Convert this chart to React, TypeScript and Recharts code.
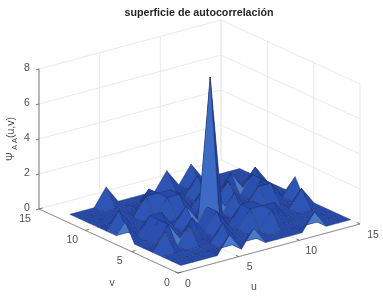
import React from "react";
import { ScatterChart, Scatter, XAxis, YAxis } from "recharts";

const W = 383;
const H = 298;

// psi(u,v), u = 1..15 across, first row is v = 1
const v1 = [0, 0, 0, 0, 1, 0, 1, 0, 0, 0, 0, 1, 0, 0, 0];
const v2 = [0, 0, 0, 0, 0, 0, 0, 0, 0, 0, 0, 0, 0, 0, 0];
const v3 = [0, 0, 0, 0, 0, 1, 0, 0, 0, 1, 0, 0, 0, 0, 0];
const v4 = [0, 1, 0, 1, 0, 0, 0, 0, 1, 1, 1, 0, 0, 0, 0];
const v5 = [0, 0, 1, 0, 1, 0, 1, 0, 1, 1, 0, 0, 0, 1, 0];
const v6 = [0, 0, 1, 0, 0, 0, 1, 0, 0, 0, 0, 0, 0, 0, 0];
const v7 = [1, 0, 1, 1, 0, 1, 0, 8, 0, 1, 0, 1, 1, 0, 1];
const v8 = [0, 0, 0, 0, 0, 0, 0, 0, 1, 0, 0, 0, 1, 0, 0];
const v9 = [0, 1, 0, 0, 0, 1, 1, 0, 1, 0, 1, 0, 1, 0, 0];
const v10 = [0, 0, 0, 0, 1, 1, 1, 0, 0, 0, 0, 1, 0, 1, 0];
const v11 = [0, 0, 0, 0, 0, 1, 0, 0, 0, 1, 0, 0, 0, 0, 0];
const v12 = [0, 0, 0, 0, 0, 0, 0, 0, 0, 0, 0, 0, 0, 0, 0];
const v13 = [0, 0, 0, 1, 0, 0, 0, 0, 1, 0, 1, 0, 0, 0, 0];
const surface = [v1, v2, v3, v4, v5, v6, v7, v8, v9, v10, v11, v12, v13];

const uTicks = [0, 5, 10, 15];
const vTicks = [0, 5, 10, 15];
const zTicks = [0, 2, 4, 6, 8];

const title = "superficie de autocorrelación";

// box view, the x/y axes below run 1:1 with the picture
const project = (u: number, v: number, z: number) => ({
  x: 178 + (u * 182) / 15 - (v * 139) / 15,
  y: 273 - (u * 49) / 15 - (v * 64) / 15 - (z * 140) / 8,
});

const viewDir = [-0.527, -0.687, 0.5];

const mix = (a: number[], b: number[], t: number) =>
  `rgb(${a.map((c, i) => Math.round(c + (b[i] - c) * t)).join(",")})`;

function faceFill(c: number[][]) {
  // corners run front, right, back, left
  const saddle = c[1][2] > c[0][2] && c[3][2] > c[0][2] && c[1][2] > c[2][2] && c[3][2] > c[2][2];
  if (saddle) return "rgb(72,122,204)";
  const d1 = [(c[2][0] - c[0][0]) / 15, (c[2][1] - c[0][1]) / 15, ((c[2][2] - c[0][2]) * 0.7) / 8];
  const d2 = [(c[3][0] - c[1][0]) / 15, (c[3][1] - c[1][1]) / 15, ((c[3][2] - c[1][2]) * 0.7) / 8];
  const n = [
    d1[1] * d2[2] - d1[2] * d2[1],
    d1[2] * d2[0] - d1[0] * d2[2],
    d1[0] * d2[1] - d1[1] * d2[0],
  ];
  const len = Math.hypot(n[0], n[1], n[2]) || 1;
  const lit = (n[0] * viewDir[0] + n[1] * viewDir[1] + n[2] * viewDir[2]) / len;
  // faces seen from below catch the light, the rest stay close to the base blue
  if (lit < -0.2) return "rgb(72,122,204)";
  if (Math.abs(n[2] / len) < 0.2 && lit > 0.6) return "rgb(60,106,196)";
  if (lit < 0.5) return mix([30, 58, 152], [38, 74, 170], Math.max(0, lit) / 0.5);
  return mix([38, 74, 170], [44, 84, 180], (lit - 0.5) / 0.4);
}

type Face = { x: number; y: number; rel: number[][]; fill: string };

const faces: Face[] = [];
for (let j = surface.length - 2; j >= 0; j--) {
  for (let i = surface[j].length - 2; i >= 0; i--) {
    const corners = [
      [i + 1, j + 1, surface[j][i]],
      [i + 2, j + 1, surface[j][i + 1]],
      [i + 2, j + 2, surface[j + 1][i + 1]],
      [i + 1, j + 2, surface[j + 1][i]],
    ];
    const pts = corners.map((c) => project(c[0], c[1], c[2]));
    const x = pts.reduce((s, p) => s + p.x, 0) / 4;
    const y = pts.reduce((s, p) => s + p.y, 0) / 4;
    faces.push({ x, y, rel: pts.map((p) => [p.x - x, p.y - y]), fill: faceFill(corners) });
  }
}

const FaceShape = (props: any) => {
  const { cx, cy, payload } = props;
  const points = payload.rel.map((r: number[]) => `${cx + r[0]},${cy + r[1]}`).join(" ");
  return <polygon points={points} fill={payload.fill} stroke="#1b2550" strokeWidth={0.45} strokeOpacity={0.75} strokeLinejoin="round" />;
};

const NoDot = () => <g />;

const gridColor = "#ebe9e7";
const axisColor = "#8f8f8f";

type Seg = { pts: { x: number; y: number }[]; color: string; w: number };
const segs: Seg[] = [];
const seg = (a: number[], b: number[], color = gridColor, w = 1) =>
  segs.push({ pts: [project(a[0], a[1], a[2]), project(b[0], b[1], b[2])], color, w });

// back walls and floor
zTicks.forEach((z) => {
  if (z === 0) return;
  seg([0, 15, z], [15, 15, z]);
  seg([15, 15, z], [15, 0, z]);
});
uTicks.forEach((u) => {
  seg([u, 15, 0], [u, 15, 8]);
  seg([u, 0, 0], [u, 15, 0]);
});
vTicks.forEach((v) => {
  seg([15, v, 0], [15, v, 8]);
  seg([0, v, 0], [15, v, 0]);
});
// axes
seg([0, 15, 0], [0, 15, 8], axisColor, 1.2);
seg([0, 0, 0], [0, 15, 0], axisColor, 1);
seg([0, 0, 0], [15, 0, 0], axisColor, 1);
zTicks.forEach((z) => seg([0, 15, z], [-0.25, 15, z], "#555", 0.8));
uTicks.forEach((u) => seg([u, 0, 0], [u, 0.3, 0], "#555", 0.8));
vTicks.forEach((v) => seg([0, v, 0], [0.3, v, 0], "#555", 0.8));

type Lab = { x: number; y: number; text: string; anchor?: string };
const tickLabels: Lab[] = [
  ...zTicks.map((z) => ({ x: 27, y: 207 - (z * 140) / 8, text: String(z) })),
  ...vTicks.map((v) => ({ x: 167 - (v * 142) / 15, y: 282 - (v * 64) / 15, text: String(v) })),
  ...uTicks.map((u) => ({ x: 188 + (u * 185) / 15, y: 283 - (u * 49) / 15, text: String(u) })),
  { x: 112, y: 282, text: "v" },
  { x: 254, y: 286, text: "u" },
];

const LabelShape = (props: any) => (
  <text x={props.cx} y={props.cy} dy="0.35em" textAnchor="middle" fontSize={10.5} fill="#4d4d4d" fontFamily="Liberation Sans">
    {props.payload.text}
  </text>
);

const TitleShape = (props: any) => (
  <text x={props.cx} y={props.cy} dy="0.35em" textAnchor="middle" fontSize={10.7} fontWeight="bold" fill="#262626" fontFamily="Liberation Sans">
    {title}
  </text>
);

const ZLabelShape = (props: any) => (
  <text transform={`translate(${props.cx},${props.cy}) rotate(-90)`} textAnchor="middle" fontSize={10.5} fill="#4d4d4d" fontFamily="Liberation Sans">
    <tspan>Ψ</tspan>
    <tspan dy={3} fontSize={8}> A A</tspan>
    <tspan dy={-3}>(u,v)</tspan>
  </text>
);

export default function App() {
  return (
    <div style={{ position: "fixed", left: 0, top: 0, width: W, height: H, background: "#fff", filter: "blur(0.35px)" }}>
      <ScatterChart width={W} height={H} margin={{ top: 0, right: 0, bottom: 0, left: 0 }}>
        <XAxis type="number" dataKey="x" domain={[0, W]} hide />
        <YAxis type="number" dataKey="y" domain={[0, H]} reversed hide />
        {segs.map((s, i) => (
          <Scatter key={i} data={s.pts} line={{ stroke: s.color, strokeWidth: s.w }} shape={NoDot} isAnimationActive={false} />
        ))}
        <Scatter data={faces} shape={FaceShape} isAnimationActive={false} />
        <Scatter data={tickLabels} shape={LabelShape} isAnimationActive={false} />
        <Scatter data={[{ x: 199, y: 12 }]} shape={TitleShape} isAnimationActive={false} />
        <Scatter data={[{ x: 14, y: 139 }]} shape={ZLabelShape} isAnimationActive={false} />
      </ScatterChart>
    </div>
  );
}
